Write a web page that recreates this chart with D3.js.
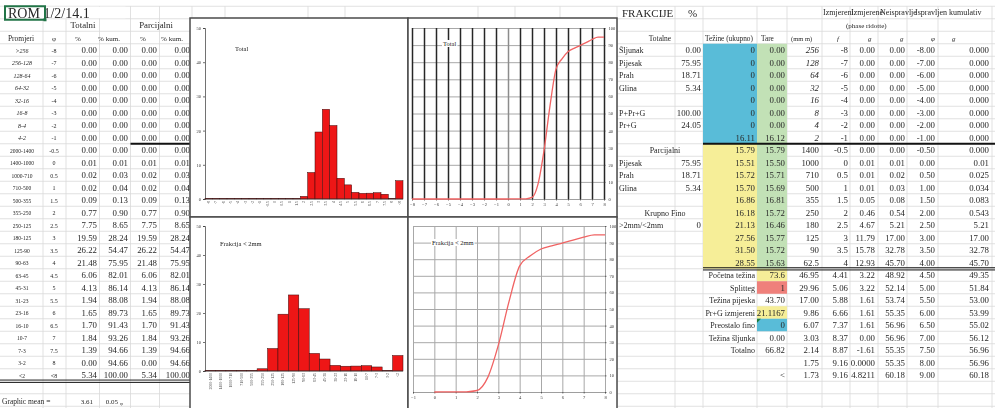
<!DOCTYPE html>
<html><head><meta charset="utf-8">
<script src="https://cdn.jsdelivr.net/npm/d3@7"></script>
<style>body{margin:0;background:#fff;overflow:hidden}svg{display:block;font-family:"Liberation Serif","Times New Roman",serif;opacity:0.995}</style>
</head><body><svg id="c" width="995" height="408"></svg>
<script>
// ---------- data ----------
const promjeri = [">256","256-128","128-64","64-32","32-16","16-8","8-4","4-2","2000-1400","1400-1000","1000-710","710-500","500-355","355-250","250-125","180-125","125-90","90-63","63-45","45-31","31-23","23-16","16-10","10-7","7-3","3-2","<2"];
const phiLabels = ["-8","-7","-6","-5","-4","-3","-2","-1","-0.5","0","0.5","1","1.5","2","2.5","3","3.5","4","4.5","5","5.5","6","6.5","7","7.5","8","<8"];
const phiValues = [-8,-7,-6,-5,-4,-3,-2,-1,-0.5,0,0.5,1,1.5,2,2.5,3,3.5,4,4.5,5,5.5,6,6.5,7,7.5,8];
const totPct = [0,0,0,0,0,0,0,0,0,0.01,0.02,0.02,0.09,0.77,7.75,19.59,26.22,21.48,6.06,4.13,1.94,1.65,1.70,1.84,1.39,0,5.34];
const totKum = [0,0,0,0,0,0,0,0,0,0.01,0.03,0.04,0.13,0.90,8.65,28.24,54.47,75.95,82.01,86.14,88.08,89.73,91.43,93.26,94.66,94.66,100];
const parPct = [0,0,0,0,0,0,0,0,0,0.01,0.02,0.02,0.09,0.77,7.75,19.59,26.22,21.48,6.06,4.13,1.94,1.65,1.70,1.84,1.39,0,5.34];
const parKum = [0,0,0,0,0,0,0,0,0,0.01,0.03,0.04,0.13,0.90,8.65,28.24,54.47,75.95,82.01,86.14,88.08,89.73,91.43,93.26,94.66,94.66,100];
const histTicks = [0,10,20,30,40,50];
const cumTicks = [0,10,20,30,40,50,60,70,80,90,100];
const totXTicks = [-8,-7,-6,-5,-4,-3,-2,-1,0,1,2,3,4,5,6,7,8];
const fineXTicks = [-1,0,1,2,3,4,5,6,7,8];

const totalneLabels = ["Šljunak","Pijesak","Prah","Glina","","P+Pr+G","Pr+G",""];
const totalneVals = [0.00,75.95,18.71,5.34,null,100.00,24.05,null];
const parcLabels = ["","Pijesak","Prah","Glina","","",">2mm/<2mm","","",""];
const parcVals = [null,75.95,18.71,5.34,null,null,0,null,null,null];
const tezineUk = [0,0,0,0,0,0,0,16.11,15.79,15.51,15.72,15.70,16.86,16.18,21.13,27.56,31.50,28.55];
const tare = [0,0,0,0,0,0,0,16.12,15.79,15.50,15.71,15.69,16.81,15.72,16.46,15.77,15.72,15.63];
const mmCol = ["256","128","64","32","16","8","4","2","1400","1000","710","500","355","250","180","125","90","62.5"];
const fCol = [-8,-7,-6,-5,-4,-3,-2,-1,-0.5,0,0.5,1,1.5,2,2.5,3,3.5,4];
const g1Col = [0,0,0,0,0,0,0,0,0.00,0.01,0.01,0.01,0.05,0.46,4.67,11.79,15.78,12.93];
const g2Col = [0,0,0,0,0,0,0,0,0.00,0.01,0.02,0.03,0.08,0.54,5.21,17.00,32.78,45.70];
const phiCol = [-8,-7,-6,-5,-4,-3,-2,-1,-0.5,0,0.5,1,1.5,2,2.5,3,3.5,4];
const kumCol = ["0.000","0.000","0.000","0.000","0.000","0.000","0.000","0.000","0.000","0.01","0.025","0.034","0.083","0.543","5.21","17.00","32.78","45.70"];

const lowLabels = ["Početna težina","Splitteg","Težina pijeska","Pr+G izmjereni","Preostalo fino","Težina šljunka","Totalno","",""];
const lowVals = ["73.6","1","43.70","21.1167","0","0.00","66.82","","<"];
const lowC4 = [46.95,29.96,17.00,9.86,6.07,3.03,2.14,1.75,1.73];
const lowC5 = [4.41,5.06,5.88,6.66,7.37,8.37,8.87,9.16,9.16];
const lowC6 = ["3.22","3.22","1.61","1.61","1.61","0.00","-1.61","0.0000","4.8211"];
const lowC7 = [48.92,52.14,53.74,55.35,56.96,56.96,55.35,55.35,60.18];
const lowC8 = [4.50,5.00,5.50,6.00,6.50,7.00,7.50,8.00,9.00];
const lowC9 = [49.35,51.84,53.00,53.99,55.02,56.12,56.96,56.96,60.18];
const headTop = ["Izmjereni","Izmjerene","Neispravlje","Ispravljen","kumulativ"];

// ---------- helpers ----------
const svg = d3.select('#c');
const RH = 12.5, R0 = 12.5;
const ry = k => R0 + RH*k;
const rb = k => R0 + RH*k - RH/2;
const TC = '#262626';
const NF = 8.8;
function txt(x,y,s,o={}){
  return svg.append('text').attr('x',x).attr('y',y).text(s)
    .attr('font-size',o.fs||NF).attr('text-anchor',o.a||'start')
    .attr('font-style',o.it?'italic':null).attr('font-weight',o.b?'bold':null)
    .attr('fill',o.c||TC);
}
const f2 = v => v==null ? '' : v.toFixed(2);

// ---------- grid ----------
const grid = svg.append('g').attr('stroke','#d9d9d9').attr('stroke-width',0.8);
for(let k=0;k<=34;k++) grid.append('line').attr('x1',0).attr('x2',995).attr('y1',rb(k)).attr('y2',rb(k));
const vLeft = [43,66,99.5,130.5,159.5,192];
const vMid = [225,308,345,478,515,560];
const vRight = [617,675,703,757,787,822,850,878,907,938,992];
[...vLeft,...vMid,...vRight].forEach(x=>grid.append('line').attr('x1',x).attr('x2',x).attr('y1',rb(0)).attr('y2',408));

// fills
const fills = [
  {x:703,w:54,k0:3,n:8,c:'#58bcd8'},
  {x:757,w:30,k0:3,n:18,c:'#c2e1b6'},
  {x:703,w:54,k0:11,n:10,c:'#f6ee98'},
  {x:757,w:30,k0:21,n:1,c:'#f6ee98'},
  {x:757,w:30,k0:22,n:1,c:'#ef7f7a'},
  {x:757,w:30,k0:24,n:1,c:'#f6ee98'},
  {x:757,w:30,k0:25,n:1,c:'#58bcd8'}
];
fills.forEach(f=>svg.append('rect').attr('x',f.x).attr('y',rb(f.k0)).attr('width',f.w).attr('height',f.n*RH).attr('fill',f.c));
svg.append('path').attr('d',`M757,${rb(25)} l4,0 l-4,4 z`).attr('fill','#1a7a3a');

// thick lines
svg.append('line').attr('x1',130.5).attr('x2',192).attr('y1',rb(11)).attr('y2',rb(11)).attr('stroke','#111').attr('stroke-width',2);
svg.append('line').attr('x1',0).attr('x2',192).attr('y1',rb(30)-1.2).attr('y2',rb(30)-1.2).attr('stroke','#222').attr('stroke-width',1);
svg.append('line').attr('x1',0).attr('x2',192).attr('y1',rb(30)+1.2).attr('y2',rb(30)+1.2).attr('stroke','#222').attr('stroke-width',1);
svg.append('line').attr('x1',703).attr('x2',995).attr('y1',rb(11)).attr('y2',rb(11)).attr('stroke','#111').attr('stroke-width',2);
svg.append('line').attr('x1',703).attr('x2',995).attr('y1',rb(21)-1).attr('y2',rb(21)-1).attr('stroke','#111').attr('stroke-width',1.2);
svg.append('line').attr('x1',703).attr('x2',995).attr('y1',rb(21)+1.2).attr('y2',rb(21)+1.2).attr('stroke','#111').attr('stroke-width',1);

// ---------- left table ----------
svg.append('rect').attr('x',0.5).attr('y',rb(0)+0.5).attr('width',125).attr('height',RH-1).attr('fill','#fff');
txt(8,ry(0)+5,'ROM 1/2/14.1',{fs:14});
svg.append('rect').attr('x',5).attr('y',rb(0)).attr('width',40).attr('height',RH+1).attr('fill','none').attr('stroke','#217346').attr('stroke-width',2);
svg.append('rect').attr('x',43.5).attr('y',rb(1)-0.5).attr('width',3).attr('height',3).attr('fill','#217346');
txt(83,ry(1)+3,'Totalni',{a:'middle'});
txt(156,ry(1)+3,'Parcijalni',{a:'middle'});
txt(21,ry(2)+3,'Promjeri',{a:'middle',fs:7.5});
txt(54,ry(2)+3,'φ',{a:'middle',fs:7});
txt(78,ry(2)+3,'%',{a:'middle',fs:7});
txt(109,ry(2)+3,'% kum.',{a:'middle',fs:7});
txt(143,ry(2)+3,'%',{a:'middle',fs:7});
txt(172,ry(2)+3,'% kum.',{a:'middle',fs:7});
promjeri.forEach((p,i)=>{
  const k=i+3, y=ry(k)+2.5;
  txt(22,y,p,{a:'middle',fs:i<8?6:5.5,it:i<8});
  txt(54,y,phiLabels[i],{a:'middle',fs:6});
  txt(97,ry(k)+3,f2(totPct[i]),{a:'end'});
  txt(128,ry(k)+3,f2(totKum[i]),{a:'end'});
  txt(157,ry(k)+3,f2(parPct[i]),{a:'end'});
  txt(190,ry(k)+3,f2(parKum[i]),{a:'end'});
});
txt(2,404,'Graphic mean =',{fs:7.5});
txt(93,404,'3.61',{a:'end',fs:7});
txt(118,404,'0.05',{a:'end',fs:7});
txt(120,405,'φ',{fs:5});

// ---------- right table ----------
txt(622,ry(0)+4,'FRAKCIJE',{fs:11});
txt(688,ry(0)+4,'%',{fs:11});
const headX=[823,851,880,915,949];
headTop.forEach((h,i)=>txt(headX[i],ry(0)+2.5,h,{fs:8}));
txt(846,ry(1)+2.5,'(phase ridotte)',{fs:7});
txt(660,ry(2)+3,'Totalne',{a:'middle',fs:7.5});
txt(705,ry(2)+3,'Težine (ukupno)',{fs:7.3});
txt(761,ry(2)+3,'Tare',{fs:7.3});
txt(791,ry(2)+3,'(mm m)',{fs:6.5});
['f','g','g','φ','g'].forEach((h,i)=>txt([837,868,900,931,952][i],ry(2)+3,h,{fs:7,it:true}));
totalneLabels.forEach((l,i)=>{ const k=i+3; txt(619,ry(k)+3,l,{fs:8}); txt(701,ry(k)+3,f2(totalneVals[i]),{a:'end'}); });
txt(665,ry(11)+3,'Parcijalni',{a:'middle',fs:8});
txt(665,ry(16)+3,'Krupno Fino',{a:'middle',fs:8});
parcLabels.forEach((l,i)=>{ const k=i+11; if(l) txt(619,ry(k)+3,l,{fs:8}); if(parcVals[i]!=null) txt(701,ry(k)+3,i===6?'0':f2(parcVals[i]),{a:'end'}); });
tezineUk.forEach((v,i)=>{ const k=i+3;
  txt(755,ry(k)+3,i<7?String(v):f2(v),{a:'end'});
  txt(785,ry(k)+3,f2(tare[i]),{a:'end'});
  txt(819,ry(k)+3,mmCol[i],{a:'end',it:i<8});
  txt(848,ry(k)+3,String(fCol[i]),{a:'end'});
  txt(875,ry(k)+3,f2(g1Col[i]),{a:'end'});
  txt(905,ry(k)+3,f2(g2Col[i]),{a:'end'});
  txt(935,ry(k)+3,f2(phiCol[i]),{a:'end'});
  txt(989,ry(k)+3,kumCol[i],{a:'end'});
});
lowLabels.forEach((l,i)=>{ const k=i+21;
  if(l) txt(755,ry(k)+3,l,{a:'end',fs:8});
  if(lowVals[i]) txt(785,ry(k)+3,lowVals[i],{a:'end'});
  txt(819,ry(k)+3,f2(lowC4[i]),{a:'end'});
  txt(848,ry(k)+3,f2(lowC5[i]),{a:'end'});
  txt(875,ry(k)+3,lowC6[i],{a:'end'});
  txt(905,ry(k)+3,f2(lowC7[i]),{a:'end'});
  txt(935,ry(k)+3,f2(lowC8[i]),{a:'end'});
  txt(989,ry(k)+3,f2(lowC9[i]),{a:'end'});
});

// ---------- charts ----------
const boxes = [[190,18,218,199],[408,18,209,199],[190,217,218,195],[408,217,209,195]];
svg.append('g').selectAll('rect').data(boxes).join('rect')
  .attr('x',b=>b[0]).attr('y',b=>b[1]).attr('width',b=>b[2]).attr('height',b=>b[3])
  .attr('fill','#fff').attr('stroke','#4a4a4a').attr('stroke-width',1.5);

function styleAxis(sel){ sel.selectAll('text').attr('font-size',4.5).attr('fill','#333').attr('font-family','Liberation Serif'); sel.selectAll('path,line').attr('stroke','#333').attr('stroke-width',0.7); }

function histogram(vals, labels, x0, x1, yTop, yBot, title, tx, ty){
  const x = d3.scaleBand().domain(d3.range(vals.length)).range([x0,x1]).padding(0);
  const y = d3.scaleLinear().domain([0,50]).range([yBot,yTop]);
  svg.append('g').attr('transform',`translate(${x0},0)`).call(d3.axisLeft(y).tickValues(histTicks).tickSize(2).tickPadding(2)).call(styleAxis);
  svg.append('g').selectAll('rect').data(vals).join('rect')
    .attr('x',(d,i)=>x(i)).attr('width',x.bandwidth())
    .attr('y',d=>Math.min(y(d),yBot-0.6)).attr('height',d=>Math.max(yBot-y(d),0.6))
    .attr('fill','#ee1515').attr('stroke','#3a0a0a').attr('stroke-width',0.5);
  svg.append('line').attr('x1',x0).attr('x2',x1).attr('y1',yBot).attr('y2',yBot).attr('stroke','#333').attr('stroke-width',0.7);
  svg.append('g').selectAll('text').data(labels).join('text')
    .attr('transform',(d,i)=>`translate(${x(i)+x.bandwidth()/2+1.3},${yBot+2}) rotate(-90)`)
    .attr('text-anchor','end').attr('font-size',3.8).attr('fill','#444').text(d=>d);
  svg.append('text').attr('x',tx).attr('y',ty).attr('font-size',6.5).attr('fill','#222').text(title);
}
histogram(totPct, phiLabels, 205, 403, 28, 199, 'Total', 235, 51);
histogram(parPct.slice(8), promjeri.slice(8), 205, 403, 226, 371, 'Frakcija < 2mm', 220, 246);

function cumChart(px, py, xDom, x0, x1, yTop, yBot, xt, darkV, title, tx, ty){
  const x = d3.scaleLinear().domain(xDom).range([x0,x1]);
  const y = d3.scaleLinear().domain([0,100]).range([yBot,yTop]);
  // horizontal gridlines via axis
  svg.append('g').attr('transform',`translate(${x1},0)`)
    .call(d3.axisLeft(y).tickValues(cumTicks).tickSize(x1-x0).tickFormat(''))
    .call(a=>a.select('.domain').remove())
    .call(a=>a.selectAll('line').attr('stroke','#a8a8a8').attr('stroke-width',1));
  // vertical gridlines via axis
  svg.append('g').attr('transform',`translate(0,${yBot})`)
    .call(d3.axisTop(x).tickValues(xt).tickSize(yBot-yTop).tickFormat(''))
    .call(a=>a.select('.domain').remove())
    .call(a=>a.selectAll('line').attr('stroke',d=>darkV?(d===0?'#8c8c8c':'#262626'):'#a8a8a8').attr('stroke-width',darkV?1.5:1));
  svg.append('g').attr('transform',`translate(${x1},0)`).call(d3.axisRight(y).tickValues(cumTicks).tickSize(1.5).tickPadding(3)).call(styleAxis).call(a=>a.select('.domain').remove());
  svg.append('g').attr('transform',`translate(0,${yBot})`).call(d3.axisBottom(x).tickValues(xt).tickSize(1.5).tickPadding(2).tickFormat(d3.format('d'))).call(styleAxis).call(a=>a.select('.domain').attr('stroke','#999'));
  const line = d3.line().x((d,i)=>x(px[i])).y(d=>y(d)).curve(d3.curveMonotoneX);
  svg.append('path').datum(py).attr('d',line).attr('fill','none').attr('stroke','#f06262').attr('stroke-width',1.3);
  const lg = svg.append('g');
  const bg = lg.append('rect').attr('fill','#fff');
  const t = lg.append('text').attr('x',tx).attr('y',ty).attr('font-size',6.5).attr('fill','#222').text(title);
  const bb = t.node().getBBox();
  bg.attr('x',bb.x-1).attr('y',bb.y).attr('width',bb.width+2).attr('height',bb.height);
}
cumChart(phiValues, totKum.slice(0,26), [-8,8], 412, 604, 28, 199, totXTicks, true, 'Total', 443, 46);
cumChart(phiValues.slice(9), parKum.slice(9,26), [-1,8], 413, 605, 226, 392, fineXTicks, false, 'Frakcija < 2mm', 432, 245);
</script></body></html>
